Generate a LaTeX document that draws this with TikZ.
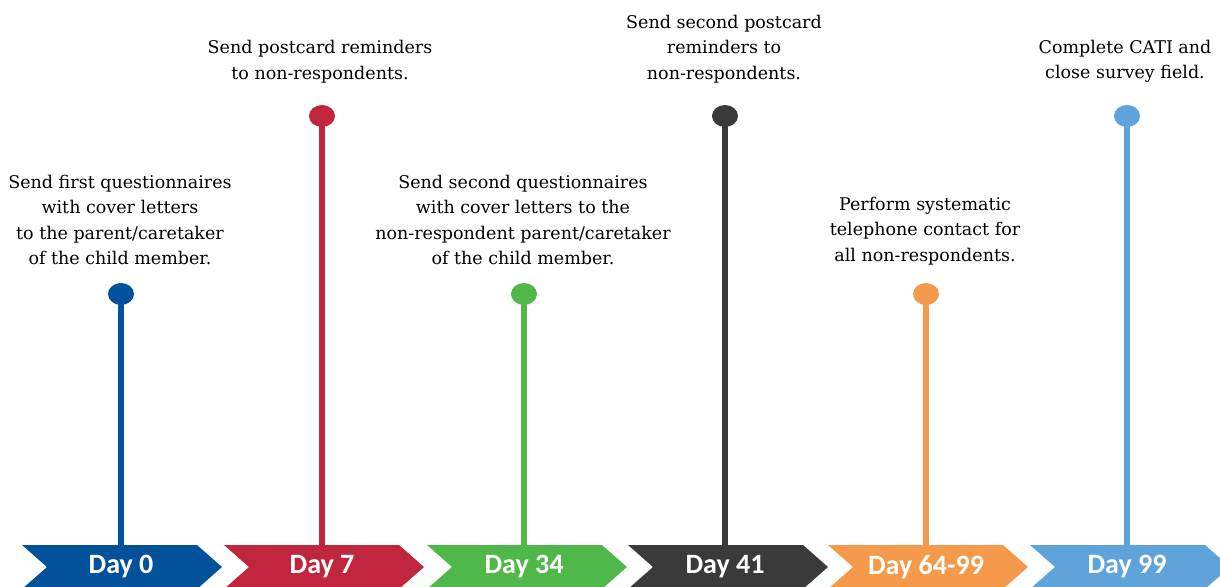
\documentclass[tikz,border=0pt]{standalone}
\usepackage{fontspec}
\setmainfont{DejaVu Serif}
\newfontfamily\chevfont{Carlito}
\definecolor{cblue}{RGB}{2,82,155}
\definecolor{cred}{RGB}{192,38,61}
\definecolor{cgreen}{RGB}{80,184,72}
\definecolor{cdark}{RGB}{58,58,58}
\definecolor{corange}{RGB}{245,153,74}
\definecolor{clight}{RGB}{94,163,217}
\tikzset{
  dot/.style={ellipse, minimum width=26pt, minimum height=22pt, inner sep=0pt, fill=#1},
  stem/.style={line width=6pt, draw=#1},
  desc/.style={align=center, font=\fontsize{17.5}{25.3}\selectfont, inner sep=0pt, anchor=south},
  daylabel/.style={text=white, font=\chevfont\bfseries\fontsize{28}{28}\selectfont, inner sep=0pt},
}
\usetikzlibrary{shapes.geometric}
\newcommand{\chev}[2]{%
  \fill[#2] (#1,545) -- ++(175,0) -- ++(25,22) -- ++(-25,22) -- ++(-175,0) -- ++(25,-22) -- cycle;}
\begin{document}
\begin{tikzpicture}[x=1pt,y=-1pt]
\useasboundingbox (0,0) rectangle (1220,586);
\clip (0,0) rectangle (1220,586);
% chevrons
\chev{22}{cblue}
\chev{224}{cred}
\chev{427}{cgreen}
\chev{628}{cdark}
\chev{828}{corange}
\chev{1030}{clight}
\node[daylabel] (d0) at (121,567) {Day 0};
\node[daylabel] (d1) at (322,567) {Day 7};
\node[daylabel] (d2) at (524,567) {Day 34};
\node[daylabel] (d3) at (725,567) {Day 41};
\node[daylabel] (d4) at (926,567) {Day 64-99};
\node[daylabel] (d5) at (1127,567) {Day 99};
% tops of chevrons
\coordinate (t0) at (121,546);
\coordinate (t1) at (322,546);
\coordinate (t2) at (524,546);
\coordinate (t3) at (725,546);
\coordinate (t4) at (926,546);
\coordinate (t5) at (1127,546);
% dots
\coordinate (p0) at (121,294);
\coordinate (p1) at (322,116);
\coordinate (p2) at (524,294);
\coordinate (p3) at (725,116);
\coordinate (p4) at (926,294);
\coordinate (p5) at (1127,116);
\draw[stem=cblue] (p0) -- (t0);
\draw[stem=cred] (p1) -- (t1);
\draw[stem=cgreen] (p2) -- (t2);
\draw[stem=cdark] (p3) -- (t3);
\draw[stem=corange] (p4) -- (t4);
\draw[stem=clight] (p5) -- (t5);
\node[dot=cblue] (c0) at (p0) {};
\node[dot=cred] (c1) at (p1) {};
\node[dot=cgreen] (c2) at (p2) {};
\node[dot=cdark] (c3) at (p3) {};
\node[dot=corange] (c4) at (p4) {};
\node[dot=clight] (c5) at (p5) {};
% descriptions
\node[desc] (n0) at (120,265) {Send first questionnaires\\with cover letters\\to the parent/caretaker\\of the child member.};
\node[desc] (n1) at (320,83) {Send postcard reminders\\to non-respondents.};
\node[desc] (n2) at (523,265) {Send second questionnaires\\with cover letters to the\\non-respondent parent/caretaker\\of the child member.};
\node[desc] (n3) at (724,83) {Send second postcard\\reminders to\\non-respondents.};
\node[desc] (n4) at (925,265) {Perform systematic\\telephone contact for\\all non-respondents.};
\node[desc] (n5) at (1125,83) {Complete CATI and\\close survey field.};
\end{tikzpicture}
\end{document}
